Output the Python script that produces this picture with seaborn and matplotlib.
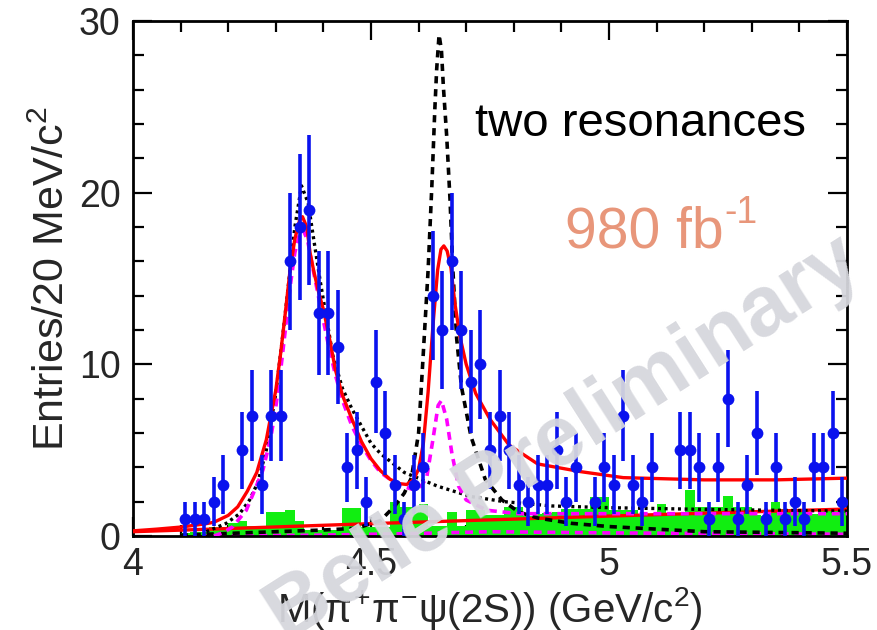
import numpy as np
import pandas as pd
import matplotlib
matplotlib.use("Agg")
import matplotlib.pyplot as plt
import seaborn as sns

sns.set_theme(style="white")
plt.rcParams['font.family'] = ['Liberation Sans', 'DejaVu Sans']
plt.rcParams['mathtext.fontset'] = 'custom'
plt.rcParams['mathtext.rm'] = 'Liberation Sans'
plt.rcParams['mathtext.it'] = 'Liberation Sans'
plt.rcParams['mathtext.bf'] = 'Liberation Sans:bold'

# ---------------- data ----------------
# data points: bin centres (GeV) and entries per 20 MeV
data_x = [4.11, 4.13, 4.15, 4.17, 4.19, 4.23, 4.25, 4.27, 4.29, 4.31, 4.33, 4.35,
          4.37, 4.39, 4.41, 4.43, 4.45, 4.47, 4.49, 4.51, 4.53, 4.55, 4.57, 4.59,
          4.61, 4.63, 4.65, 4.67, 4.69, 4.71, 4.73, 4.75, 4.77, 4.79, 4.81, 4.83,
          4.85, 4.87, 4.89, 4.91, 4.93, 4.97, 4.99, 5.01, 5.03, 5.05, 5.07, 5.09,
          5.15, 5.17, 5.19, 5.21, 5.23, 5.25, 5.27, 5.29, 5.31, 5.33, 5.35, 5.37,
          5.39, 5.41, 5.43, 5.45, 5.47, 5.49]
data_y = [1, 1, 1, 2, 3, 5, 7, 3, 7, 7, 16, 18,
          19, 13, 13, 11, 4, 5, 2, 9, 6, 3, 1, 3,
          4, 14, 12, 16, 12, 9, 10, 5, 7, 5, 3, 2,
          3, 3, 5, 2, 4, 2, 4, 3, 7, 3, 2, 4,
          5, 5, 4, 1, 4, 8, 1, 3, 6, 1, 4, 1,
          2, 1, 4, 4, 6, 2]

# sideband histogram (green), 20 MeV bins starting at 4.00
bkg_hist = [0, 0, 0, 0, 0, 0.2, 0.25, 0.25, 0.5, 0.55,
            0.75, 0.9, 0.6, 0.6, 1.4, 1.4, 1.5, 0.85, 0.35, 0.35,
            0.35, 0.35, 1.65, 1.65, 0.5, 0.5, 0.5, 2.0, 1.7, 1.7,
            1.85, 0.6, 0.6, 1.4, 0.6, 1.5, 1.5, 1.2, 1.2, 1.7,
            1.7, 1.15, 1.3, 1.35, 1.4, 1.6, 1.6, 1.6, 2.3, 2.25,
            1.5, 1.5, 1.5, 1.3, 1.3, 1.85, 1.3, 1.3, 2.7, 1.7,
            1.7, 1.7, 2.35, 1.7, 1.7, 1.2, 1.15, 2.0, 1.6, 1.6,
            1.6, 1.3, 1.5, 1.5, 1.5]

# total fit (red solid)
fit_x = [4.00, 4.05, 4.10, 4.15, 4.17, 4.20, 4.22, 4.24, 4.26, 4.28, 4.30, 4.31,
         4.32, 4.33, 4.34, 4.35, 4.356, 4.365, 4.372, 4.38, 4.39, 4.40, 4.415,
         4.425, 4.44, 4.46, 4.48, 4.50, 4.52, 4.54, 4.56, 4.575, 4.59, 4.60,
         4.61, 4.62, 4.63, 4.64, 4.647, 4.653, 4.66, 4.668, 4.676, 4.687, 4.70,
         4.72, 4.75, 4.79, 4.85, 4.94, 5.03, 5.20, 5.35, 5.50]
fit_y = [0.30, 0.40, 0.52, 0.70, 0.80, 1.2, 1.7, 2.6, 3.7, 5.6, 8.5, 10.6,
         13.0, 15.5, 17.3, 18.4, 18.6, 18.0, 16.5, 15.4, 14.2, 13.2, 11.2,
         9.7, 8.2, 6.8, 5.5, 4.5, 3.8, 3.3, 3.05, 3.0, 3.3, 3.9,
         5.4, 8.4, 12.2, 15.5, 16.7, 16.9, 16.6, 15.6, 13.6, 11.6, 10.0,
         8.3, 6.8, 5.3, 4.2, 3.75, 3.4, 3.27, 3.27, 3.37]

# background (red straight line)
bg_x = [4.00, 4.25, 4.50, 4.75, 5.00, 5.25, 5.50]
bg_y = [0.25, 0.48, 0.72, 0.94, 1.16, 1.37, 1.57]

# alternative fit (black dotted)
dot_x = [4.154, 4.196, 4.224, 4.245, 4.262, 4.28, 4.30, 4.316, 4.33, 4.34, 4.354,
         4.368, 4.379, 4.393, 4.407, 4.42, 4.44, 4.46, 4.48, 4.50, 4.52, 4.57,
         4.64, 4.71, 4.78, 4.88, 5.00, 5.20, 5.50]
dot_y = [0.25, 0.74, 1.3, 2.1, 3.1, 5.0, 8.3, 12.0, 15.5, 18.0, 20.4,
         19.4, 17.4, 14.9, 12.6, 10.5, 8.6, 7.4, 6.4, 5.4, 4.8, 3.7,
         2.9, 2.3, 2.0, 1.75, 1.65, 1.55, 1.45]

# narrow resonance of the alternative fit (black dashed)
dash_x = [4.10, 4.20, 4.30, 4.40, 4.47, 4.52, 4.55, 4.57, 4.585, 4.60, 4.61,
          4.62, 4.628, 4.634, 4.638, 4.643, 4.648, 4.652, 4.659, 4.666, 4.672,
          4.68, 4.69, 4.71, 4.74, 4.775, 4.81, 4.85, 4.92, 5.00, 5.20, 5.50]
dash_y = [0.05, 0.15, 0.25, 0.35, 0.45, 0.9, 1.75, 2.5, 3.4, 6.0, 10.7,
          15.5, 20.5, 24.8, 27.2, 29.2, 28.3, 26.2, 23.3, 19.6, 15.5,
          11.5, 8.7, 5.8, 3.3, 2.1, 1.4, 1.05, 0.74, 0.55, 0.25, 0.16]

# resonance components (magenta dashed)
mag_x = [4.17, 4.19, 4.21, 4.238, 4.259, 4.273, 4.29, 4.30, 4.31, 4.32, 4.33,
         4.34, 4.35, 4.358, 4.367, 4.375, 4.385, 4.395, 4.41, 4.425, 4.44, 4.46,
         4.48, 4.50, 4.52, 4.54, 4.565, 4.59, 4.605, 4.617, 4.63, 4.641, 4.648,
         4.659, 4.67, 4.684, 4.70, 4.743, 4.81, 5.00, 5.50]
mag_y = [0.0, 0.2, 0.55, 1.5, 2.9, 3.85, 5.8, 7.5, 9.6, 12.0, 14.5,
         16.5, 17.6, 17.8, 17.2, 16.0, 14.6, 13.2, 11.2, 9.4, 7.9, 6.4,
         5.3, 4.4, 3.7, 3.3, 2.9, 2.7, 2.9, 3.4, 5.6, 7.6, 7.9,
         6.8, 4.8, 2.9, 2.1, 1.5, 1.3, 1.3, 1.3]

mag2_x = [4.15, 4.40, 4.60, 4.75, 5.00, 5.50]
mag2_y = [0.0, 0.05, 0.15, 0.25, 0.18, 0.10]

# ---------------- figure ----------------
fig = plt.figure(figsize=(8.77, 6.30), dpi=100)
ax = fig.add_axes([133/877, (630-536)/630, 714/877, (536-21)/630])

centres = [round(4.01 + 0.02*i, 3) for i in range(len(bkg_hist))]
hist_df = pd.DataFrame({'m': centres, 'w': bkg_hist})
sns.histplot(data=hist_df, x='m', weights='w', binwidth=0.02, binrange=(4.0, 5.5),
             element='step', fill=True, color='#11ee11', alpha=1.0,
             linewidth=0, ax=ax, zorder=1)

def curve(x, y, **kw):
    sns.lineplot(x=x, y=y, sort=False, estimator=None, ax=ax, **kw)

curve(mag2_x, mag2_y, color='#ff00ff', lw=2.6, dashes=(2.2, 1.6), zorder=2)
curve(bg_x, bg_y, color='#ff0000', lw=2.4, zorder=3)
curve(dash_x, dash_y, color='black', lw=2.6, dashes=(2.0, 1.6), zorder=3)
curve(dot_x, dot_y, color='black', lw=2.4, dashes=(0.9, 1.1), zorder=3)
curve(mag_x, mag_y, color='#ff00ff', lw=2.6, dashes=(2.2, 1.6), zorder=3)
curve(fit_x, fit_y, color='#ff0000', lw=2.4, zorder=4)

err = np.sqrt(np.array(data_y, dtype=float))
ax.errorbar(data_x, data_y, yerr=err, fmt='none', ecolor='#0a12ee',
            elinewidth=2.6, capsize=0, zorder=5)
sns.scatterplot(x=data_x, y=data_y, color='#0a12ee', marker='o', s=72,
                edgecolor='#0a12ee', linewidth=0, ax=ax, zorder=6)

ax.set_xlim(4.0, 5.5)
ax.set_ylim(0, 30)
ax.set_xticks([4.0, 4.5, 5.0, 5.5])
ax.set_xticklabels(['4', '4.5', '5', '5.5'])
ax.set_xticks(np.round(np.arange(4.0, 5.501, 0.1), 2), minor=True)
ax.set_yticks([0, 10, 20, 30])
ax.set_yticks(np.arange(0, 31, 2), minor=True)
ax.tick_params(which='both', direction='in', top=True, right=True,
               bottom=True, left=True, color='black', width=1.6)
ax.tick_params(which='major', length=14, labelsize=27)
ax.tick_params(which='minor', length=8)
ax.tick_params(axis='x', which='major', pad=8)
ax.tick_params(axis='y', which='major', pad=9)
for s in ax.spines.values():
    s.set_color('black')
    s.set_linewidth(2.0)
    s.set_visible(True)

ax.set_xlabel(r'M($\pi^{+}\pi^{-}\psi$(2S)) (GeV/c$^{2}$)', fontsize=29,
              labelpad=1)
ax.set_ylabel(r'Entries/20 MeV/c$^{2}$', fontsize=31, labelpad=4)

ax.text(0.479, 0.80, 'two resonances', transform=ax.transAxes, fontsize=34,
        color='black', ha='left', va='center')
ax.text(0.605, 0.59, '980 fb', transform=ax.transAxes, fontsize=41,
        color='#e8967a', ha='left', va='center')
ax.text(0.828, 0.627, '-1', transform=ax.transAxes, fontsize=27,
        color='#e8967a', ha='left', va='center')

ax.text(4.905, 5.6, 'Belle Preliminary', fontsize=61, fontweight='bold',
        color='#d6d7dd', alpha=0.95, rotation=32.5, rotation_mode='anchor',
        ha='center', va='center', zorder=10, clip_on=False)

fig.savefig('out.png', dpi=100)
